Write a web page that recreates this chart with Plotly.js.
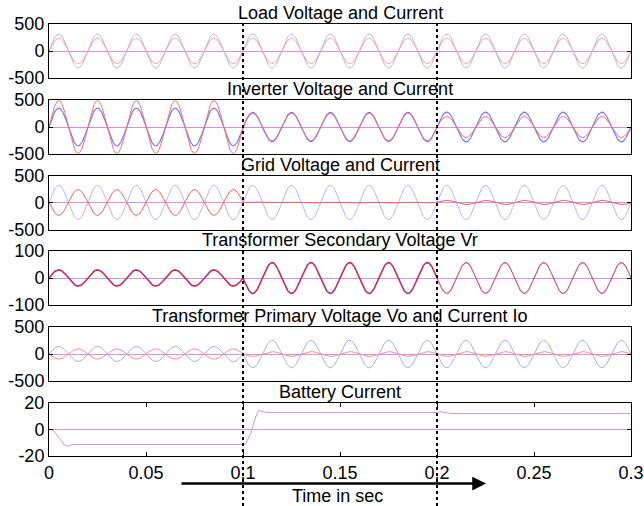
<!DOCTYPE html>
<html>
<head>
<meta charset="utf-8">
<script src="https://cdn.plot.ly/plotly-3.0.1.min.js"></script>
<style>html,body{margin:0;padding:0;background:#fff;}#chart{width:644px;height:506px;}</style>
</head>
<body>
<div id="chart"></div>
<script>
// ---- data (peak amplitude per 0.1 s segment; sign = phase) ----
const segmentStarts = [0, 0.1, 0.2];
const freqHz = 50;
const loadV = [315, 315, 315];
const loadI = [235, 235, 235];
const invV  = [350, 270, 275];
const invI  = [490, 255, 195];
const gridV = [317, 317, 317];
const gridI = [-238, 8, 40];
const vrSec = [30, -57, -57];
const vo    = [140, -255, -255];
const io    = [-95, -45, -45];
// battery current breakpoints
const battT = [0, 0.002, 0.005, 0.008, 0.0095, 0.012, 0.1, 0.1015, 0.104, 0.106, 0.108, 0.110, 0.112, 0.15, 0.1505, 0.151, 0.2, 0.2015, 0.203, 0.205, 0.207, 0.3];
const battI = [0, -0.5, -6, -11.8, -12.6, -11.4, -11.4, -10.5, -3, 7, 14.2, 13.6, 12.5, 12.5, 12.9, 12.5, 12.5, 13.2, 13.0, 12.2, 11.8, 11.8];
const subplotTitles = ['Load Voltage and Current', 'Inverter Voltage and Current', 'Grid Voltage and Current',
  'Transformer Secondary Voltage Vr', 'Transformer Primary Voltage Vo and Current Io', 'Battery Current'];
const yRanges = [[-500,500],[-500,500],[-500,500],[-100,100],[-500,500],[-20,20]];
const xTickVals = [0, 0.05, 0.1, 0.15, 0.2, 0.25, 0.3];
const xTickText = ['0', '0.05', '0.1', '0.15', '0.2', '0.25', '0.3'];

// ---- build waveforms on a sampling grid ----
const dt = 0.0002;
const tAll = [];
for (let i = 0; i <= 1500; i++) tAll.push(+(i * dt).toFixed(6));
function wave(amps, t0, t1) {
  const xs = [], ys = [];
  tAll.forEach(t => {
    if (t < t0 - 1e-9 || t > t1 + 1e-9) return;
    let s = 0;
    for (let k = 0; k < segmentStarts.length; k++) if (t >= segmentStarts[k] - 1e-9) s = k;
    xs.push(t); ys.push(amps[s] * Math.sin(2 * Math.PI * freqHz * t));
  });
  return {x: xs, y: ys};
}
function tr(amps, axis, color, width, t0 = 0, t1 = 0.3) {
  const w = wave(amps, t0, t1);
  return {x: w.x, y: w.y, xaxis: 'x' + axis, yaxis: 'y' + axis, type: 'scatter', mode: 'lines',
    line: {color: color, width: width}, hoverinfo: 'skip'};
}
const traces = [
  tr(loadV, 1, '#b3b3ff', 1), tr(loadI, 1, '#ffa0a0', 1),
  tr(invV, 2, '#7777ff', 1.2), tr(invI, 2, '#ff6a6a', 1),
  tr(gridV, 3, '#b3b3ff', 1), tr(gridI, 3, '#ff5a5a', 1),
  tr(vrSec, 4, '#c42a70', 1.6, 0, 0.2), tr(vrSec, 4, '#cc4a8c', 1.1, 0.2, 0.3),
  tr(vo, 5, '#a8a8ff', 1), tr(io, 5, '#ff8c8c', 1),
  {x: battT, y: battI, xaxis: 'x6', yaxis: 'y6', type: 'scatter', mode: 'lines',
   line: {color: '#d595d5', width: 1}, hoverinfo: 'skip'}
];

// ---- layout ----
const H = 506, mt = 24, mb = 50, plotH = H - mt - mb;
const tops = [24, 100, 175.5, 251, 327, 402.5], hgt = 54;
const font = {family: 'Liberation Sans, Arial, sans-serif', size: 18, color: '#000'};
const layout = {
  width: 644, height: 506,
  margin: {l: 49, r: 13, t: mt, b: mb, pad: 0},
  paper_bgcolor: '#fff', plot_bgcolor: '#fff',
  showlegend: false, font: font,
  annotations: [], shapes: []
};
for (let i = 1; i <= 6; i++) {
  const top = tops[i - 1], bot = Math.min(top + hgt, 456);
  const d0 = (H - mb - bot) / plotH, d1 = (H - mb - top) / plotH;
  const r = yRanges[i - 1];
  layout['xaxis' + i] = {domain: [0, 1], range: [0, 0.3], anchor: 'y' + i,
    showline: true, mirror: i === 6 ? 'ticks' : true, linecolor: '#000', linewidth: 1,
    ticks: i === 6 ? 'inside' : '', ticklen: 4, tickcolor: '#000',
    showticklabels: i === 6, tickvals: xTickVals, ticktext: xTickText, tickfont: font,
    showgrid: false, zeroline: false, fixedrange: true};
  layout['yaxis' + i] = {domain: [d0, d1], range: r, anchor: 'x' + i,
    showline: true, mirror: 'ticks', linecolor: '#000', linewidth: 1,
    ticks: 'inside', ticklen: 4, tickcolor: '#000',
    tickvals: [r[0], 0, r[1]], ticktext: [String(r[0]), '0', String(r[1])], tickfont: font,
    showgrid: false, zeroline: true, zerolinecolor: '#d690d6', zerolinewidth: 1, fixedrange: true};
  layout.annotations.push({text: subplotTitles[i - 1], xref: 'paper', yref: 'paper',
    x: 0.5, y: d1, xanchor: 'center', yanchor: 'bottom', showarrow: false, font: font, borderpad: 0});
}
[0.1, 0.2].forEach(xv => layout.shapes.push({type: 'line', xref: 'x6', yref: 'paper',
  x0: xv, x1: xv, y0: (H - mb - 506) / plotH, y1: 1.0, line: {color: '#000', width: 2, dash: 'dot'}}));
layout.annotations.push({text: '', xref: 'paper', yref: 'paper',
  x: (486 - 49) / 582, y: (456 - 483.5) / plotH, ax: 180 - 486, ay: 0,
  showarrow: true, arrowhead: 2, arrowsize: 1.1, arrowwidth: 2.5, arrowcolor: '#000'});
layout.annotations.push({text: 'Time in sec', xref: 'paper', yref: 'paper',
  x: (337 - 49) / 582, y: (456 - 496) / plotH, xanchor: 'center', yanchor: 'middle',
  showarrow: false, font: font});

Plotly.newPlot('chart', traces, layout, {staticPlot: true, displayModeBar: false});
</script>
</body>
</html>
